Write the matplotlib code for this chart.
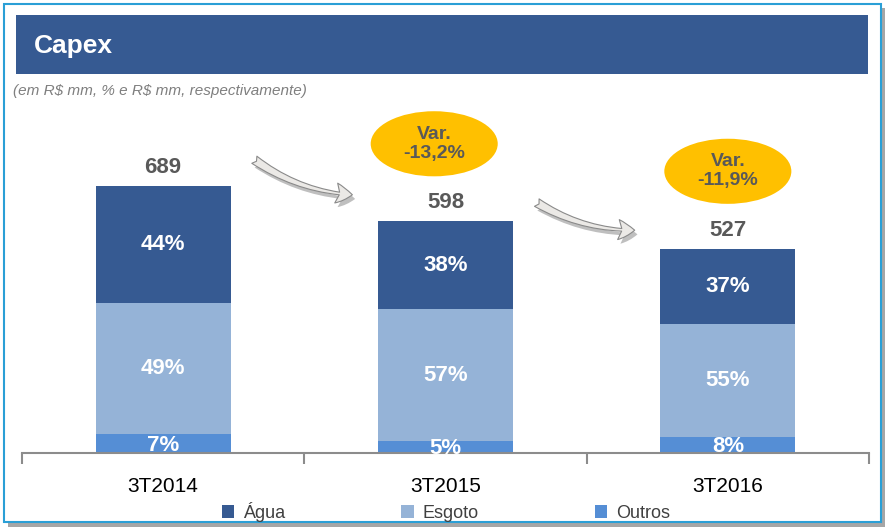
import matplotlib
matplotlib.use("Agg")
import matplotlib.pyplot as plt
import matplotlib.patheffects as pe
from matplotlib.patches import Rectangle, Ellipse, FancyArrowPatch
import numpy as np

plt.rcParams["font.family"] = ["Liberation Sans", "DejaVu Sans"]
plt.rcParams["text.parse_math"] = False

# data
periods = ["3T2014", "3T2015", "3T2016"]
totals = [689, 598, 527]
agua_pct = [44, 38, 37]
esgoto_pct = [49, 57, 55]
outros_pct = [7, 5, 8]
variations = ["-13,2%", "-11,9%"]

c_agua = "#365a92"
c_esgoto = "#95b3d7"
c_outros = "#558ed5"
gray_txt = "#595959"

W, H = 885, 527
fig = plt.figure(figsize=(W / 100, H / 100), dpi=100)


def fx(px):
    return px / W


def fy(py):
    return 1 - py / H


def frect(left, top, right, bottom, **kw):
    r = Rectangle((fx(left), fy(bottom)), fx(right - left), fy(top) - fy(bottom),
                  transform=fig.transFigure, **kw)
    fig.patches.append(r)
    return r


# outer frame with shadow
frect(8, 8, 885, 527, facecolor="#a6a6a6", edgecolor="none", zorder=0)
frect(4, 4, 881, 522, facecolor="white", edgecolor="#2a9fd6", linewidth=1.5, zorder=1)

# header bar
frect(16, 15, 868, 74, facecolor=c_agua, edgecolor="none", zorder=2)
fig.text(fx(34), fy(46), "Capex", color="white", fontsize=19, fontweight="bold", va="center", ha="left", zorder=3)
fig.text(fx(13), fy(91), "(em R$ mm, % e R$ mm, respectivamente)", color="#7f7f7f", fontsize=11,
         style="italic", va="center", ha="left", zorder=3)

# bar axes: baseline at 453 px, 0.3875 px per R$ mm
x0, x1 = 22, 869
base, top = 453, 100
ax = fig.add_axes([fx(x0), fy(base), fx(x1 - x0), fy(top) - fy(base)])
ax.set_xlim(-0.5, 2.5)
ax.set_ylim(0, (base - top) / 0.3875)
ax.patch.set_alpha(0)
ax.set_zorder(5)

x = np.arange(len(periods))
tot = np.array(totals, dtype=float)
outros = tot * np.array(outros_pct) / 100
esgoto = tot * np.array(esgoto_pct) / 100
agua = tot * np.array(agua_pct) / 100
bw = 0.478

b1 = ax.bar(x, outros, bw, color=c_outros, label="Outros")
b2 = ax.bar(x, esgoto, bw, bottom=outros, color=c_esgoto, label="Esgoto")
b3 = ax.bar(x, agua, bw, bottom=outros + esgoto, color=c_agua, label="Água")

lbl = dict(color="white", fontsize=16, fontweight="bold", ha="center", va="center")
for i in range(len(periods)):
    ax.text(x[i], outros[i] + esgoto[i] + agua[i] / 2, f"{agua_pct[i]}%", **lbl)
    ax.text(x[i], outros[i] + esgoto[i] / 2, f"{esgoto_pct[i]}%", **lbl)
    ax.text(x[i], outros[i] / 2 - 4, f"{outros_pct[i]}%", **lbl)
    ax.text(x[i], tot[i] + 48, f"{totals[i]}", color=gray_txt, fontsize=16, fontweight="bold",
            ha="center", va="center")

# variation bubbles and arrows
for i, v in enumerate(variations):
    j = i + 1
    ex = x[j] - 0.04 if j == 1 else x[j]
    ax.add_patch(Ellipse((ex, tot[j] + 200), 0.45, 168, facecolor="#ffc000", edgecolor="none", zorder=6))
    ax.text(ex, tot[j] + 200, f"Var.\n{v}", color=gray_txt, fontsize=14, fontweight="bold",
            ha="center", va="center", linespacing=1.15, zorder=7)
    arr = FancyArrowPatch((x[i] + 0.315, tot[i] + 72 - 20 * i), (x[j] - 0.32, tot[j] + 68 - 20 * i),
                          connectionstyle="arc3,rad=0.15",
                          arrowstyle="fancy,head_width=1.6,head_length=1.3,tail_width=0.7",
                          mutation_scale=9, facecolor="#ebe9e6", edgecolor="#8a8a8a", linewidth=0.8,
                          zorder=6,
                          path_effects=[pe.withSimplePatchShadow(offset=(2, -3), shadow_rgbFace="#000000", alpha=0.25)])
    ax.add_patch(arr)

# axis styling
for s in ["top", "right", "left"]:
    ax.spines[s].set_visible(False)
ax.spines["bottom"].set_color("#8c8c8c")
ax.spines["bottom"].set_linewidth(1.5)
ax.set_yticks([])
ax.set_xticks([-0.5, 0.5, 1.5, 2.5])
ax.set_xticklabels([])
ax.tick_params(axis="x", length=8, width=1.5, color="#8c8c8c", direction="out")
for i, p in enumerate(periods):
    ax.text(x[i], -33 / 0.3875, p, color="black", fontsize=15, ha="center", va="center")

fig.legend(handles=[b3, b2, b1], labels=["Água", "Esgoto", "Outros"], loc="center",
           bbox_to_anchor=(fx(446), fy(512)), ncol=3, frameon=False, fontsize=13,
           handlelength=0.7, handleheight=0.7, handletextpad=0.5, columnspacing=6.4,
           labelcolor="#404040")

fig.savefig("out.png", dpi=100)
